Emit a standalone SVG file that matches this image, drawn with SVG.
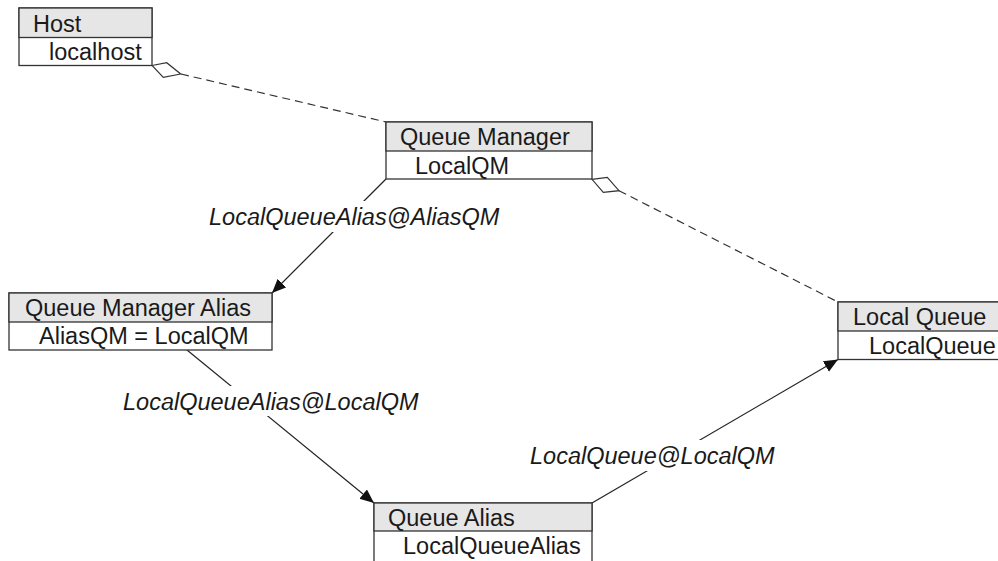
<svg xmlns="http://www.w3.org/2000/svg" width="998" height="561" viewBox="0 0 998 561">
  <style>
    .box { fill: #ffffff; stroke: #333333; stroke-width: 1.3; }
    .head { fill: #e6e6e6; stroke: #333333; stroke-width: 1.3; }
    .t { font-family: "Liberation Sans", Arial, Helvetica, sans-serif; font-size: 23.5px; fill: #1a1a1a; }
    .lbl { font-family: "Liberation Sans", Arial, Helvetica, sans-serif; font-size: 23.5px; font-style: italic; fill: #1a1a1a; }
    .link { stroke: #222222; stroke-width: 1.2; fill: none; }
    .dash { stroke: #333333; stroke-width: 1.2; fill: none; stroke-dasharray: 8 5; }
    .diamond { fill: #ffffff; stroke: #333333; stroke-width: 1.2; stroke-linejoin: miter; }
    .gap { fill: #ffffff; }
  </style>
  <defs>
    <marker id="arrow" markerUnits="userSpaceOnUse" markerWidth="16" markerHeight="14" refX="14" refY="6" orient="auto">
      <path d="M0,0 L14,6 L0,12 Z" fill="#111111"/>
    </marker>
  </defs>

  <rect width="998" height="561" fill="#ffffff"/>

  <!-- connectors -->
  <g id="connectors">
    <!-- aggregation: Host <> Queue Manager -->
    <line class="dash" x1="181" y1="74" x2="386" y2="122"/>
    <polygon class="diamond" points="152,65.5 166.7,62.7 180.7,74 163.3,77.3"/>
    <!-- aggregation: Queue Manager <> Local Queue -->
    <line class="dash" x1="619" y1="190.7" x2="838" y2="302"/>
    <polygon class="diamond" points="592,179.3 607.3,177.3 619,190.7 603.3,192.3"/>

    <!-- resolution path -->
    <line class="link" x1="386" y1="179" x2="272" y2="293" marker-end="url(#arrow)"/>
    <line class="link" x1="187" y1="350" x2="374" y2="503" marker-end="url(#arrow)"/>
    <line class="link" x1="592" y1="503" x2="838" y2="359.5" marker-end="url(#arrow)"/>

    <!-- edge labels -->
    <rect class="gap" x="205" y="201" width="298" height="31"/>
    <text class="lbl" x="209" y="225">LocalQueueAlias@AliasQM</text>
    <rect class="gap" x="119" y="386" width="308" height="30"/>
    <text class="lbl" x="123" y="410">LocalQueueAlias@LocalQM</text>
    <rect class="gap" x="526" y="440" width="253" height="31"/>
    <text class="lbl" x="530" y="464">LocalQueue@LocalQM</text>
  </g>

  <!-- nodes -->
  <g id="host">
    <rect class="box" x="19" y="8" width="133" height="57.5"/>
    <rect class="head" x="19" y="8" width="133" height="29.5"/>
    <text class="t" x="33" y="31.5">Host</text>
    <text class="t" x="49" y="60">localhost</text>
  </g>

  <g id="queue-manager">
    <rect class="box" x="386" y="122" width="206" height="57"/>
    <rect class="head" x="386" y="122" width="206" height="29"/>
    <text class="t" x="400" y="145">Queue Manager</text>
    <text class="t" x="415" y="173.5">LocalQM</text>
  </g>

  <g id="queue-manager-alias">
    <rect class="box" x="9" y="293" width="263" height="57"/>
    <rect class="head" x="9" y="293" width="263" height="29"/>
    <text class="t" x="25" y="316">Queue Manager Alias</text>
    <text class="t" x="39" y="344">AliasQM = LocalQM</text>
  </g>

  <g id="local-queue">
    <rect class="box" x="838" y="302" width="175" height="57.5"/>
    <rect class="head" x="838" y="302" width="175" height="29"/>
    <text class="t" x="853" y="325">Local Queue</text>
    <text class="t" x="869" y="353.5">LocalQueue</text>
  </g>

  <g id="queue-alias">
    <rect class="box" x="374" y="503" width="218" height="70"/>
    <rect class="head" x="374" y="503" width="218" height="28"/>
    <text class="t" x="388" y="525.5">Queue Alias</text>
    <text class="t" x="403" y="554">LocalQueueAlias</text>
  </g>
</svg>
